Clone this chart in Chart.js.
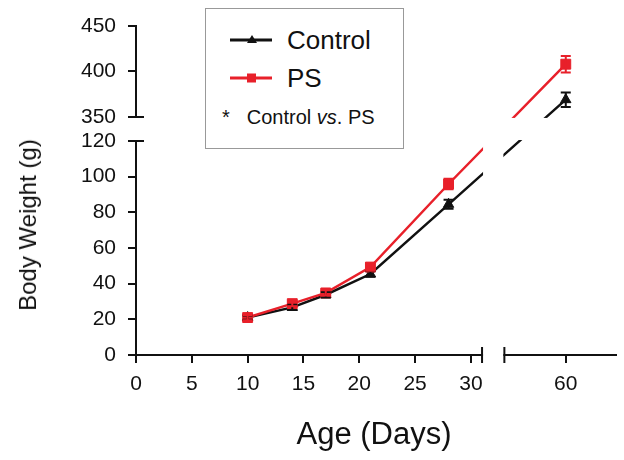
<!DOCTYPE html>
<html>
<head>
<meta charset="utf-8">
<script src="https://cdn.jsdelivr.net/npm/chart.js@4/dist/chart.umd.min.js"></script>
<style>
  body { margin: 0; background: #fff; }
  #wrap { position: relative; width: 624px; height: 460px; font-family: "Liberation Sans", Arial, sans-serif; color: #111; }
  #wrap canvas { position: absolute; left: 0; top: 0; }
  .ytitle { position: absolute; left: 28px; top: 225px; transform: translate(-50%, -50%) rotate(-90deg); font-size: 24px; white-space: nowrap; }
  .xtitle { position: absolute; left: 374px; top: 434px; transform: translate(-50%, -50%); font-size: 31px; white-space: nowrap; }
  .legend { position: absolute; left: 205px; top: 8px; width: 197px; height: 139px; border: 1px solid #999; background: #fff; }
  .row { position: absolute; display: flex; align-items: center; white-space: nowrap; }
  .row svg { display: block; }
</style>
</head>
<body>
<div id="wrap">
  <canvas id="weightChart" width="624" height="460"></canvas>
  <div class="ytitle">Body Weight (g)</div>
  <div class="xtitle">Age (Days)</div>
  <div class="legend">
    <div class="row" style="left:24px; top:17px; height:28px; font-size:26px;">
      <svg width="42" height="14"><line x1="0" y1="7" x2="42" y2="7" stroke="#111" stroke-width="3"/><polygon points="22,2 27,10 17,10" fill="#111"/></svg>
      <span style="margin-left:15px;">Control</span>
    </div>
    <div class="row" style="left:24px; top:55px; height:28px; font-size:26px;">
      <svg width="42" height="14"><line x1="0" y1="7" x2="42" y2="7" stroke="#e8202a" stroke-width="3"/><rect x="17" y="2.5" width="9" height="9" fill="#e8202a"/></svg>
      <span style="margin-left:15px;">PS</span>
    </div>
    <div class="row" style="left:16px; top:97px; height:22px; font-size:20px;">
      <span>*</span>
      <span style="margin-left:17px;">Control <i>vs</i>. PS</span>
    </div>
  </div>
</div>
<script>
// values
const days = [10, 14, 17, 21, 28, 60];
const controlWeight = [21, 26.7, 33.8, 45.4, 84.5, 369];
const controlErr = [1.2, 1.5, 1.5, 1.5, 2.5, 8];
const psWeight = [21, 28.8, 34.8, 49.3, 95.9, 408];
const psErr = [1.5, 1.5, 1.5, 2, 3, 9];
const xTickDays = [0, 5, 10, 15, 20, 25, 30, 60];
const yTickGrams = [0, 20, 40, 60, 80, 100, 120, 350, 400, 450];

// broken axes: days 31..54.5 and grams 120..350 are cut out
const X_CUT_START = 31, X_CUT = 21.5, X_GAP = 2;
const Y_CUT_LO = 120, Y_CUT_HI = 350, Y_GAP = 13.5, Y_TOP_SCALE = 0.51;
const toX = d => d <= X_CUT_START ? d : d - X_CUT;
const fromX = x => x <= X_CUT_START ? x : x + X_CUT;
const toY = v => v <= Y_CUT_LO ? v : Y_CUT_LO + Y_GAP + (v - Y_CUT_HI) * Y_TOP_SCALE;
const fromY = y => y <= Y_CUT_LO ? y : Y_CUT_HI + (y - Y_CUT_LO - Y_GAP) / Y_TOP_SCALE;

const red = '#e8202a';
const black = '#111';

const points = vals => days.map((d, i) => ({ x: toX(d), y: toY(vals[i]) }));

// error bars drawn through the scales
const errorBars = {
    id: 'errorBars',
    afterDatasetsDraw(chart) {
        const { ctx, scales: { y } } = chart;
        const errs = [controlErr, psErr];
        const vals = [controlWeight, psWeight];
        ctx.save();
        ctx.lineWidth = 2;
        chart.data.datasets.forEach((ds, i) => {
            const meta = chart.getDatasetMeta(i);
            ctx.strokeStyle = ds.borderColor;
            meta.data.forEach((pt, j) => {
                const top = y.getPixelForValue(toY(vals[i][j] + errs[i][j]));
                const bot = y.getPixelForValue(toY(vals[i][j] - errs[i][j]));
                ctx.beginPath();
                ctx.moveTo(pt.x, top); ctx.lineTo(pt.x, bot);
                ctx.moveTo(pt.x - 5, top); ctx.lineTo(pt.x + 5, top);
                ctx.moveTo(pt.x - 5, bot); ctx.lineTo(pt.x + 5, bot);
                ctx.stroke();
            });
        });
        ctx.restore();
    }
};

// white gaps and caps where the axes are broken
const axisBreaks = {
    id: 'axisBreaks',
    afterDraw(chart) {
        const { ctx, chartArea: a, scales: { x, y } } = chart;
        const yLo = y.getPixelForValue(Y_CUT_LO);
        const yHi = y.getPixelForValue(Y_CUT_LO + Y_GAP);
        const xA = x.getPixelForValue(X_CUT_START);
        const xB = x.getPixelForValue(X_CUT_START + X_GAP);
        ctx.save();
        ctx.fillStyle = '#fff';
        ctx.fillRect(a.left - 3, yHi + 1, 462, yLo - yHi - 2);
        ctx.fillRect(xA + 1, a.top + 72, xB - xA - 2, a.bottom + 2 - (a.top + 72));
        ctx.strokeStyle = black;
        ctx.lineWidth = 2;
        ctx.beginPath();
        [yLo, yHi].forEach(py => { ctx.moveTo(a.left - 8, py); ctx.lineTo(a.left + 8, py); });
        [xA, xB].forEach(px => { ctx.moveTo(px, a.bottom - 8); ctx.lineTo(px, a.bottom + 8); });
        ctx.stroke();
        ctx.restore();
    }
};

const tickFont = { family: '"Liberation Sans", Arial, sans-serif', size: 21 };

const config = {
    type: 'line',
    data: {
        datasets: [{
            label: 'Control',
            data: points(controlWeight),
            borderColor: black,
            backgroundColor: black,
            borderWidth: 2.5,
            pointStyle: 'triangle',
            pointRadius: 6,
            pointBorderWidth: 1,
            order: 1
        }, {
            label: 'PS',
            data: points(psWeight),
            borderColor: red,
            backgroundColor: red,
            borderWidth: 2.5,
            pointStyle: 'rect',
            pointRadius: 7,
            pointBorderWidth: 1,
            order: 0
        }]
    },
    options: {
        responsive: false,
        animation: false,
        layout: { padding: { top: 26, right: 0, left: 0, bottom: 0 } },
        plugins: {
            legend: { display: false },
            tooltip: { enabled: false }
        },
        scales: {
            x: {
                type: 'linear',
                min: 0,
                max: 43,
                afterBuildTicks: s => { s.ticks = xTickDays.map(d => ({ value: toX(d) })); },
                afterFit: s => { s.height = 105; },
                ticks: {
                    autoSkip: false,
                    maxRotation: 0,
                    padding: 9,
                    color: black,
                    font: tickFont,
                    callback: v => String(Math.round(fromX(v)))
                },
                grid: { drawOnChartArea: false, tickLength: 8, color: black, lineWidth: 2 },
                border: { color: black, width: 2 }
            },
            y: {
                type: 'linear',
                min: 0,
                max: toY(450),
                afterBuildTicks: s => { s.ticks = yTickGrams.map(g => ({ value: toY(g) })); },
                afterFit: s => { s.width = 136; },
                ticks: {
                    autoSkip: false,
                    padding: 12,
                    color: black,
                    font: tickFont,
                    callback: v => String(Math.round(fromY(v)))
                },
                grid: { drawOnChartArea: false, tickLength: 8, color: black, lineWidth: 2 },
                border: { color: black, width: 2 }
            }
        }
    },
    plugins: [errorBars, axisBreaks]
};

window.onload = () => {
    const ctx = document.getElementById('weightChart').getContext('2d');
    new Chart(ctx, config);
};
</script>
</body>
</html>
